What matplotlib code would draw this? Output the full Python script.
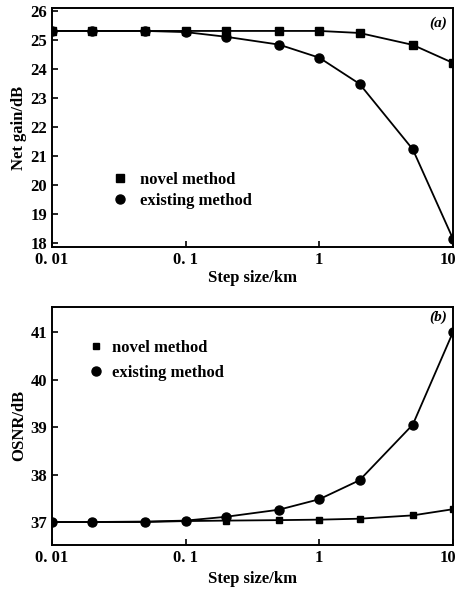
import matplotlib
matplotlib.use("Agg")
import matplotlib.pyplot as plt
import matplotlib.transforms as mtransforms
from matplotlib.ticker import FixedLocator, FixedFormatter, NullLocator

plt.rcParams['font.family'] = ['Liberation Serif', 'DejaVu Serif']
plt.rcParams['font.weight'] = 'bold'

step = [0.01, 0.02, 0.05, 0.1, 0.2, 0.5, 1, 2, 5, 10]
gain_novel = [25.3, 25.3, 25.3, 25.3, 25.3, 25.3, 25.3, 25.23, 24.82, 24.2]
gain_exist = [25.3, 25.3, 25.3, 25.26, 25.1, 24.83, 24.38, 23.48, 21.23, 18.15]
osnr_novel = [37.0, 37.0, 37.0, 37.02, 37.03, 37.04, 37.05, 37.07, 37.14, 37.27]
osnr_exist = [37.0, 37.0, 37.01, 37.03, 37.11, 37.26, 37.48, 37.88, 39.05, 41.0]

xticks = [0.01, 0.1, 1, 10]
xticklabels = ['0. 01', '0. 1', '1', '10']
gain_ticks = [18, 19, 20, 21, 22, 23, 24, 25, 26]
osnr_ticks = [37, 38, 39, 40, 41]

fig = plt.figure(figsize=(4.59, 5.89), dpi=100)
ax1 = fig.add_axes([0.113, 0.581, 0.874, 0.405])
ax2 = fig.add_axes([0.113, 0.075, 0.874, 0.404])


def style(ax, xpad):
    ax.set_xscale('log')
    ax.set_xlim(0.01, 10)
    ax.xaxis.set_major_locator(FixedLocator(xticks))
    ax.xaxis.set_major_formatter(FixedFormatter(xticklabels))
    ax.xaxis.set_minor_locator(NullLocator())
    ax.tick_params(direction='in', length=4, width=1.2, labelsize=12)
    for lab in ax.get_xticklabels() + ax.get_yticklabels():
        lab.set_fontweight('bold')
    last = ax.get_xticklabels()[-1]
    last.set_transform(last.get_transform() +
                       mtransforms.ScaledTranslation(-5 / 100, 0, fig.dpi_scale_trans))
    for s in ax.spines.values():
        s.set_linewidth(1.4)
    ax.set_xlabel('Step size/km', fontsize=12, fontweight='bold', labelpad=xpad)


ax1.plot(step, gain_novel, color='black', lw=1.3, marker='s', ms=5.5,
         label='novel method')
ax1.plot(step, gain_exist, color='black', lw=1.3, marker='o', ms=6.5,
         label='existing method')
ax1.set_ylim(17.88, 26.08)
ax1.yaxis.set_major_locator(FixedLocator(gain_ticks))
style(ax1, 2)
ax1.set_ylabel('Net gain/dB', fontsize=12, fontweight='bold', labelpad=2)
ax1.text(0.985, 0.965, '(a)', transform=ax1.transAxes, ha='right', va='top',
         fontsize=11, style='italic')
ax1.legend(loc='upper left', bbox_to_anchor=(0.132, 0.378), frameon=False,
           handlelength=0, handletextpad=1.2,
           prop={'weight': 'bold', 'size': 12}, labelspacing=0.3)

ax2.plot(step, osnr_novel, color='black', lw=1.3, marker='s', ms=5.0,
         label='novel method')
ax2.plot(step, osnr_exist, color='black', lw=1.3, marker='o', ms=6.5,
         label='existing method')
ax2.set_ylim(36.52, 41.53)
ax2.yaxis.set_major_locator(FixedLocator(osnr_ticks))
style(ax2, 4)
ax2.set_ylabel('OSNR/dB', fontsize=12, fontweight='bold', labelpad=2)
ax2.text(0.985, 0.985, '(b)', transform=ax2.transAxes, ha='right', va='top',
         fontsize=11, style='italic')
ax2.legend(loc='upper left', bbox_to_anchor=(0.072, 0.925), frameon=False,
           handlelength=0, handletextpad=1.0,
           prop={'weight': 'bold', 'size': 12}, labelspacing=0.55)

fig.savefig('out.png', dpi=100)
